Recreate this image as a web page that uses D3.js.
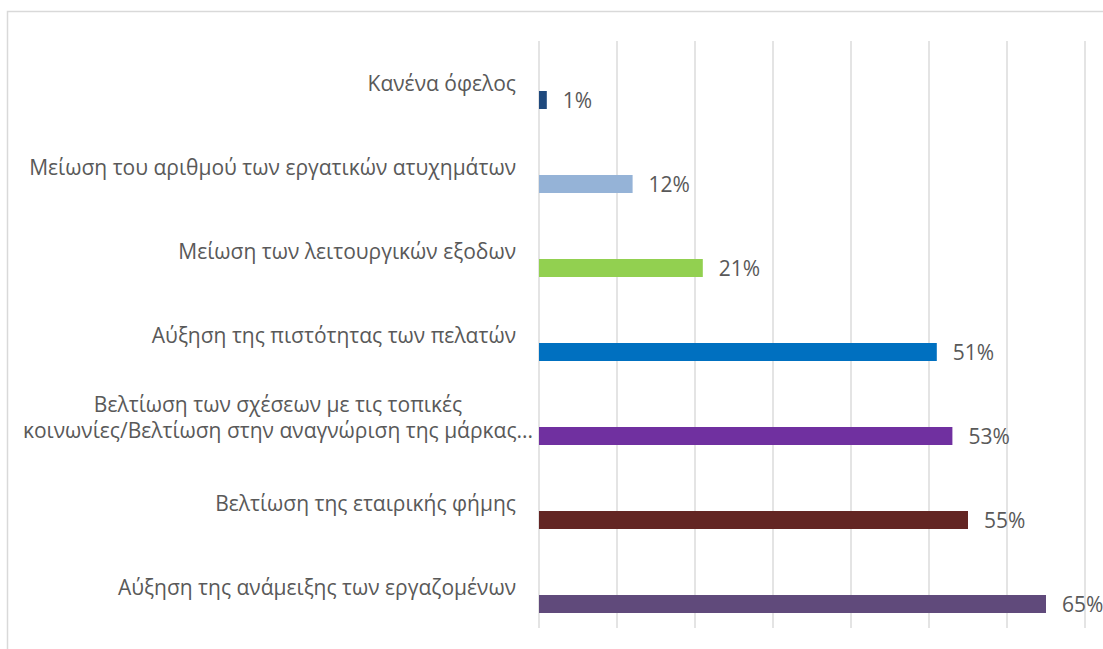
<!DOCTYPE html>
<html>
<head>
<meta charset="utf-8">
<script src="https://cdn.jsdelivr.net/npm/d3@7"></script>
<style>
  body { margin: 0; background: #fff; }
  text { font-family: "Open Sans", sans-serif; fill: #595959; }
</style>
</head>
<body>
<div id="chart"></div>
<script>
// categories, top to bottom
var categories = [
    "Κανένα όφελος",
    "Μείωση του αριθμού των εργατικών ατυχημάτων",
    "Μείωση των λειτουργικών εξοδων",
    "Αύξηση της πιστότητας των πελατών",
    "Βελτίωση των σχέσεων με τις τοπικές\nκοινωνίες/Βελτίωση στην αναγνώριση της μάρκας...",
    "Βελτίωση της εταιρικής φήμης",
    "Αύξηση της ανάμειξης των εργαζομένων"
];
var values = [1, 12, 21, 51, 53, 55, 65];
var colors = ["#1F497D", "#95B3D7", "#92D050", "#0070C0", "#7030A0", "#632523", "#604A7B"];
var gridTicks = [0, 10, 20, 30, 40, 50, 60, 70];

var width = 1103, height = 649;

var svg = d3.select("#chart").append("svg")
    .attr("width", width)
    .attr("height", height);

// chart frame
svg.append("rect")
    .attr("x", 7.5)
    .attr("y", 11.5)
    .attr("width", 1200)
    .attr("height", 700)
    .attr("fill", "none")
    .attr("stroke", "#d9d9d9")
    .attr("stroke-width", 1.5);

var xScale = d3.scaleLinear()
    .domain([0, 70])
    .range([539, 1085]);

var p = 66 / 84;
var yScale = d3.scaleBand()
    .domain(categories)
    .range([58, 646])
    .paddingInner(p)
    .paddingOuter(p / 2);

// vertical gridlines
svg.selectAll(".grid")
    .data(gridTicks)
    .enter().append("line")
    .attr("class", "grid")
    .attr("x1", function(d) { return xScale(d); })
    .attr("x2", function(d) { return xScale(d); })
    .attr("y1", 41)
    .attr("y2", 628)
    .attr("stroke", "#d9d9d9")
    .attr("stroke-width", 1.4);

// bars
svg.selectAll(".bar")
    .data(categories)
    .enter().append("rect")
    .attr("class", "bar")
    .attr("x", xScale(0))
    .attr("y", function(d) { return yScale(d); })
    .attr("width", function(d, i) { return xScale(values[i]) - xScale(0); })
    .attr("height", yScale.bandwidth())
    .attr("fill", function(d, i) { return colors[i]; });

// value labels
svg.selectAll(".val")
    .data(categories)
    .enter().append("text")
    .attr("class", "val")
    .attr("x", function(d, i) { return xScale(values[i]) + 16; })
    .attr("y", function(d) { return yScale(d) + yScale.bandwidth() / 2 + 8; })
    .style("font-size", "21px")
    .text(function(d, i) { return values[i] + "%"; });

// category labels (sit above the bar, like the original)
svg.selectAll(".cat")
    .data(categories)
    .enter().append("text")
    .attr("class", "cat")
    .style("font-size", "21px")
    .each(function(d) {
        var lines = d.split("\n");
        var mid = yScale(d) + yScale.bandwidth() / 2;
        var t = d3.select(this);
        if (lines.length === 1) {
            t.attr("text-anchor", "end")
                .attr("x", 516)
                .attr("y", mid - 9)
                .text(d);
        } else {
            t.attr("text-anchor", "middle");
            lines.forEach(function(l, j) {
                t.append("tspan")
                    .attr("x", 278)
                    .attr("y", mid - 24 + j * 26)
                    .text(l);
            });
        }
    });
</script>
</body>
</html>
